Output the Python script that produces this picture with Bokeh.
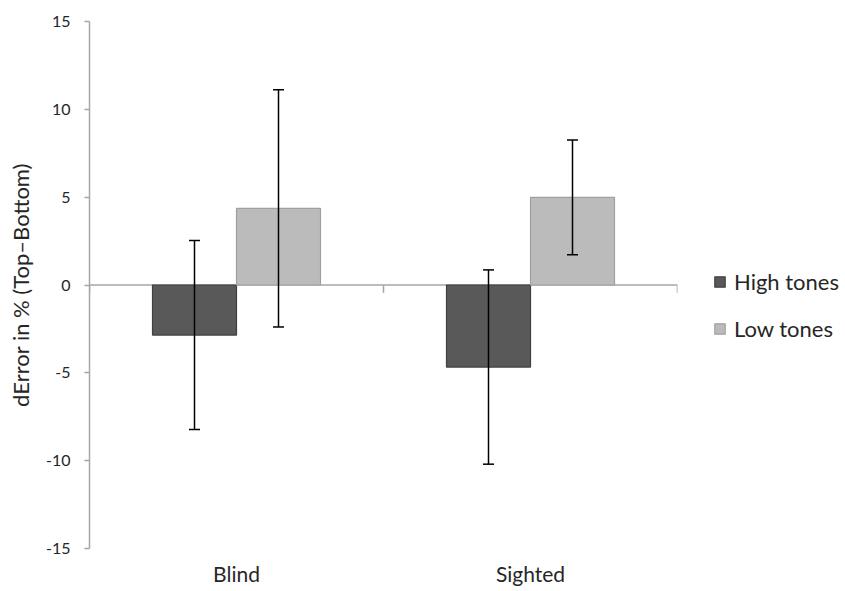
import numpy as np
from bokeh.plotting import figure
from bokeh.models import (Range1d, FixedTicker, ColumnDataSource, Whisker, TeeHead,
                          Legend, LegendItem)
from bokeh.embed import file_html
from bokeh.resources import INLINE

# ---- data ----
groups = ["Blind", "Sighted"]
series = ["High tones", "Low tones"]
high_means = [-2.85, -4.67]
high_err = [5.38, 5.53]
low_means = [4.36, 4.99]
low_err = [6.75, 3.27]
y_ticks = [-15, -10, -5, 0, 5, 10, 15]

FONT = "Lato"
TXT = "#262626"
AXIS_C = "#A6A6A6"

p = figure(frame_width=588, frame_height=527, output_backend="svg", toolbar_location=None,
           x_range=Range1d(0, len(groups)), y_range=Range1d(-15, 15),
           min_border_left=89, min_border_right=168, min_border_top=21,
           min_border_bottom=40)
p.outline_line_color = None
p.xgrid.grid_line_color = None
p.ygrid.grid_line_color = None
p.background_fill_color = "white"
p.border_fill_color = "white"

bar_w = 2 / 7
centers = np.arange(len(groups)) + 0.5
x_high = centers - bar_w / 2
x_low = centers + bar_w / 2

# zero line and category separator ticks
p.segment(x0=[0], y0=[0], x1=[len(groups)], y1=[0], line_color=AXIS_C, line_width=1.5)
sep = np.arange(len(groups) + 1)
p.segment(x0=sep, y0=np.zeros(len(sep)), x1=sep, y1=np.full(len(sep), -0.45),
          line_color=AXIS_C, line_width=1.5)

src_h = ColumnDataSource(dict(x=x_high, top=high_means,
                              lo=np.array(high_means) - np.array(high_err),
                              hi=np.array(high_means) + np.array(high_err)))
src_l = ColumnDataSource(dict(x=x_low, top=low_means,
                              lo=np.array(low_means) - np.array(low_err),
                              hi=np.array(low_means) + np.array(low_err)))

r_h = p.vbar(x="x", top="top", bottom=0, width=bar_w, source=src_h,
             fill_color="#595959", line_color="#404040", line_width=1.2)
r_l = p.vbar(x="x", top="top", bottom=0, width=bar_w, source=src_l,
             fill_color="#BBBBBB", line_color="#A0A0A0", line_width=1.2)

for src in (src_h, src_l):
    w = Whisker(base="x", lower="lo", upper="hi", source=src, level="overlay",
                line_color="black", line_width=1.5,
                upper_head=TeeHead(size=11, line_color="black", line_width=1.5),
                lower_head=TeeHead(size=11, line_color="black", line_width=1.5))
    p.add_layout(w)

# y axis
ya = p.yaxis[0]
ya.ticker = FixedTicker(ticks=y_ticks)
ya.major_label_overrides = {t: str(t) for t in y_ticks}
ya.minor_tick_line_color = None
ya.major_tick_in = 0
ya.major_tick_out = 5
ya.major_tick_line_color = AXIS_C
ya.major_tick_line_width = 1.5
ya.axis_line_color = AXIS_C
ya.axis_line_width = 1.5
ya.major_label_text_font = FONT
ya.major_label_text_font_size = "16px"
ya.major_label_text_color = TXT
ya.major_label_standoff = 14
ya.axis_label = "dError in % (Top\u2013Bottom)"
ya.axis_label_text_font = FONT
ya.axis_label_text_font_size = "22px"
ya.axis_label_text_font_style = "normal"
ya.axis_label_text_color = TXT
ya.axis_label_standoff = 9

# x axis (category labels)
xa = p.xaxis[0]
xa.ticker = FixedTicker(ticks=list(centers))
xa.major_label_overrides = {float(c): g for c, g in zip(centers, groups)}
xa.axis_line_color = None
xa.major_tick_line_color = None
xa.major_tick_out = 0
xa.major_tick_in = 0
xa.minor_tick_line_color = None
xa.major_label_text_font = FONT
xa.major_label_text_font_size = "21px"
xa.major_label_text_color = TXT
xa.major_label_standoff = 12

legend = Legend(items=[LegendItem(label=series[0], renderers=[r_h]),
                       LegendItem(label=series[1], renderers=[r_l])],
                location=(36, 206), orientation="vertical")
legend.border_line_color = None
legend.background_fill_alpha = 0
legend.padding = 0
legend.margin = 0
legend.glyph_width = 13
legend.glyph_height = 13
legend.label_height = 25
legend.spacing = 20
legend.label_standoff = 8
legend.label_text_font = FONT
legend.label_text_font_size = "22px"
legend.label_text_color = TXT
p.add_layout(legend, "right")

open("out.html", "w").write(file_html(p, INLINE))
